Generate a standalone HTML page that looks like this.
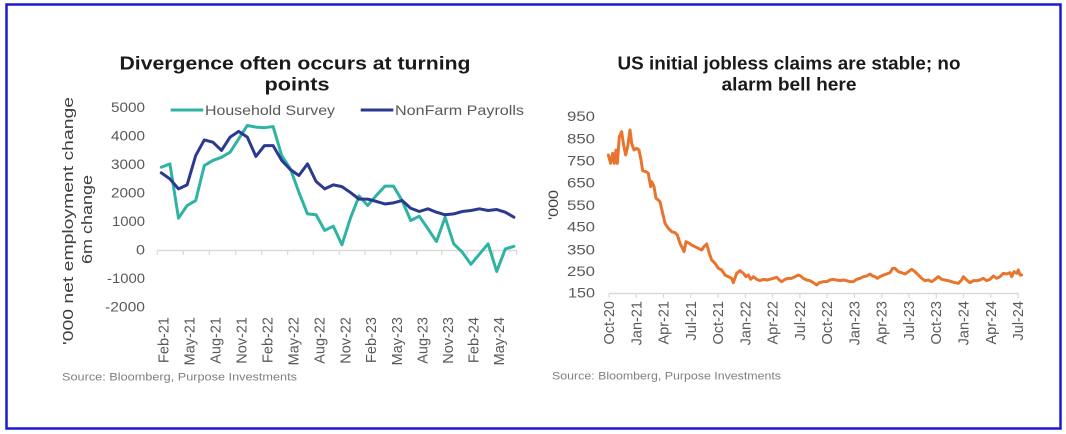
<!DOCTYPE html>
<html>
<head>
<meta charset="utf-8">
<style>
  html,body{margin:0;padding:0;background:#fff;}
  svg{display:block;}
  text{font-family:"Liberation Sans",Arial,sans-serif;}
</style>
</head>
<body>
<svg width="1066" height="434" viewBox="0 0 1066 434" xmlns="http://www.w3.org/2000/svg">
  <rect x="0" y="0" width="1066" height="434" fill="#ffffff"/>
  <!-- border -->
  <rect x="6.5" y="4.5" width="1054" height="424" fill="none" stroke="#1a1ad6" stroke-width="2.5"/>

  <!-- ================= LEFT CHART ================= -->
  <text x="295" y="69.5" font-size="18" font-weight="bold" fill="#1a1a1a" text-anchor="middle" textLength="351" lengthAdjust="spacingAndGlyphs">Divergence often occurs at turning</text>
  <text x="297" y="90.5" font-size="18" font-weight="bold" fill="#1a1a1a" text-anchor="middle" textLength="65" lengthAdjust="spacingAndGlyphs">points</text>

  <!-- legend -->
  <line x1="170.7" y1="110" x2="203.3" y2="110" stroke="#2fb3a3" stroke-width="3"/>
  <text x="205" y="115" font-size="14" fill="#595959" textLength="130" lengthAdjust="spacingAndGlyphs">Household Survey</text>
  <line x1="360.7" y1="110" x2="393.3" y2="110" stroke="#2b3990" stroke-width="3"/>
  <text x="395" y="115" font-size="14" fill="#595959" textLength="129" lengthAdjust="spacingAndGlyphs">NonFarm Payrolls</text>

  <!-- y axis labels -->
  <g font-size="14" fill="#595959" text-anchor="end">
    <text x="145" y="112" textLength="34" lengthAdjust="spacingAndGlyphs">5000</text>
    <text x="145" y="140.5" textLength="34" lengthAdjust="spacingAndGlyphs">4000</text>
    <text x="145" y="169" textLength="34" lengthAdjust="spacingAndGlyphs">3000</text>
    <text x="145" y="197.5" textLength="34" lengthAdjust="spacingAndGlyphs">2000</text>
    <text x="145" y="226" textLength="33" lengthAdjust="spacingAndGlyphs">1000</text>
    <text x="145" y="254.5" textLength="9" lengthAdjust="spacingAndGlyphs">0</text>
    <text x="145" y="283" textLength="38" lengthAdjust="spacingAndGlyphs">-1000</text>
    <text x="145" y="311.5" textLength="40" lengthAdjust="spacingAndGlyphs">-2000</text>
  </g>

  <!-- y axis title -->
  <text transform="translate(73,221) rotate(-90)" font-size="15" fill="#404040" text-anchor="middle" textLength="248" lengthAdjust="spacingAndGlyphs">'000 net employment change</text>
  <text transform="translate(92,219.5) rotate(-90)" font-size="15" fill="#404040" text-anchor="middle" textLength="89" lengthAdjust="spacingAndGlyphs">6m change</text>

  <!-- zero axis -->
  <line x1="157.3" y1="250.5" x2="517" y2="250.5" stroke="#d9d9d9" stroke-width="1.5"/>
  <g stroke="#d9d9d9" stroke-width="1.2">
    <line x1="157.3" y1="250.5" x2="157.3" y2="255"/>
    <line x1="183.3" y1="250.5" x2="183.3" y2="255"/>
    <line x1="209.3" y1="250.5" x2="209.3" y2="255"/>
    <line x1="235.7" y1="250.5" x2="235.7" y2="255"/>
    <line x1="261.7" y1="250.5" x2="261.7" y2="255"/>
    <line x1="287.7" y1="250.5" x2="287.7" y2="255"/>
    <line x1="313.3" y1="250.5" x2="313.3" y2="255"/>
    <line x1="339.3" y1="250.5" x2="339.3" y2="255"/>
    <line x1="365" y1="250.5" x2="365" y2="255"/>
    <line x1="390.7" y1="250.5" x2="390.7" y2="255"/>
    <line x1="416.7" y1="250.5" x2="416.7" y2="255"/>
    <line x1="441.7" y1="250.5" x2="441.7" y2="255"/>
    <line x1="467.3" y1="250.5" x2="467.3" y2="255"/>
    <line x1="493.3" y1="250.5" x2="493.3" y2="255"/>
    <line x1="516.7" y1="250.5" x2="516.7" y2="255"/>
  </g>

  <!-- x labels -->
  <g font-size="14.5" fill="#595959" text-anchor="end">
    <text transform="translate(168.5,317) rotate(-90)">Feb-21</text>
    <text transform="translate(194.5,317) rotate(-90)">May-21</text>
    <text transform="translate(220.5,317) rotate(-90)">Aug-21</text>
    <text transform="translate(246.5,317) rotate(-90)">Nov-21</text>
    <text transform="translate(272.5,317) rotate(-90)">Feb-22</text>
    <text transform="translate(298.5,317) rotate(-90)">May-22</text>
    <text transform="translate(324.5,317) rotate(-90)">Aug-22</text>
    <text transform="translate(350.5,317) rotate(-90)">Nov-22</text>
    <text transform="translate(376,317) rotate(-90)">Feb-23</text>
    <text transform="translate(402,317) rotate(-90)">May-23</text>
    <text transform="translate(427.5,317) rotate(-90)">Aug-23</text>
    <text transform="translate(453,317) rotate(-90)">Nov-23</text>
    <text transform="translate(478.5,317) rotate(-90)">Feb-24</text>
    <text transform="translate(504,317) rotate(-90)">May-24</text>
  </g>

  <!-- series -->
  <g transform="translate(161.3,249.5) scale(8.6,-0.02846)">
    <polyline vector-effect="non-scaling-stroke" fill="none" stroke="#2fb3a3" stroke-width="3" stroke-linejoin="round" stroke-linecap="round"
      points="0,2890 1,3010 2,1100 3,1545 4,1720 5,2950 6,3130 7,3240 8,3420 9,3890 10,4360 11,4300 12,4280 13,4320 14,3300 15,2840 16,2010 17,1250 18,1220 19,670 20,820 21,165 22,1110 23,1880 24,1545 25,1900 26,2225 27,2225 28,1720 29,1020 30,1170 31,730 32,280 33,1135 34,200 35,-95 36,-520 37,-160 38,200 39,-770 40,20 41,110"/>
    <polyline vector-effect="non-scaling-stroke" fill="none" stroke="#2b3990" stroke-width="3" stroke-linejoin="round" stroke-linecap="round"
      points="0,2695 1,2480 2,2130 3,2270 4,3300 5,3850 6,3770 7,3480 8,3950 9,4150 10,3950 11,3270 12,3650 13,3650 14,3130 15,2810 16,2600 17,3010 18,2390 19,2130 20,2270 21,2210 22,2000 23,1770 24,1770 25,1690 26,1600 27,1640 28,1720 29,1450 30,1335 31,1430 32,1310 33,1220 34,1250 35,1335 36,1370 37,1430 38,1370 39,1405 40,1310 41,1135"/>
  </g>

  <text x="62" y="380.5" font-size="11" fill="#7f7f7f" textLength="235" lengthAdjust="spacingAndGlyphs">Source: Bloomberg, Purpose Investments</text>

  <!-- ================= RIGHT CHART ================= -->
  <text x="789" y="69.5" font-size="18" font-weight="bold" fill="#1a1a1a" text-anchor="middle" textLength="343" lengthAdjust="spacingAndGlyphs">US initial jobless claims are stable; no</text>
  <text x="789" y="90.5" font-size="18" font-weight="bold" fill="#1a1a1a" text-anchor="middle" textLength="135" lengthAdjust="spacingAndGlyphs">alarm bell here</text>

  <g font-size="14" fill="#595959" text-anchor="end">
    <text x="595" y="121" textLength="28" lengthAdjust="spacingAndGlyphs">950</text>
    <text x="595" y="143.3" textLength="28" lengthAdjust="spacingAndGlyphs">850</text>
    <text x="595" y="165.7" textLength="28" lengthAdjust="spacingAndGlyphs">750</text>
    <text x="595" y="187.7" textLength="28" lengthAdjust="spacingAndGlyphs">650</text>
    <text x="595" y="210" textLength="28" lengthAdjust="spacingAndGlyphs">550</text>
    <text x="595" y="231.7" textLength="28" lengthAdjust="spacingAndGlyphs">450</text>
    <text x="595" y="254.3" textLength="28" lengthAdjust="spacingAndGlyphs">350</text>
    <text x="595" y="276" textLength="28" lengthAdjust="spacingAndGlyphs">250</text>
    <text x="595" y="297.7" textLength="27" lengthAdjust="spacingAndGlyphs">150</text>
  </g>

  <text transform="translate(558,205) rotate(-90)" font-size="14" fill="#404040" text-anchor="middle" textLength="30" lengthAdjust="spacingAndGlyphs">'000</text>

  <line x1="609" y1="293.5" x2="1019" y2="293.5" stroke="#d9d9d9" stroke-width="1.5"/>
  <g stroke="#d9d9d9" stroke-width="1.2">
    <line x1="609" y1="293.5" x2="609" y2="298"/>
    <line x1="636.3" y1="293.5" x2="636.3" y2="298"/>
    <line x1="663.5" y1="293.5" x2="663.5" y2="298"/>
    <line x1="690.8" y1="293.5" x2="690.8" y2="298"/>
    <line x1="718.1" y1="293.5" x2="718.1" y2="298"/>
    <line x1="745.4" y1="293.5" x2="745.4" y2="298"/>
    <line x1="772.6" y1="293.5" x2="772.6" y2="298"/>
    <line x1="799.9" y1="293.5" x2="799.9" y2="298"/>
    <line x1="827.2" y1="293.5" x2="827.2" y2="298"/>
    <line x1="854.4" y1="293.5" x2="854.4" y2="298"/>
    <line x1="881.7" y1="293.5" x2="881.7" y2="298"/>
    <line x1="909" y1="293.5" x2="909" y2="298"/>
    <line x1="936.2" y1="293.5" x2="936.2" y2="298"/>
    <line x1="963.5" y1="293.5" x2="963.5" y2="298"/>
    <line x1="990.8" y1="293.5" x2="990.8" y2="298"/>
    <line x1="1018" y1="293.5" x2="1018" y2="298"/>
  </g>

  <g font-size="14.5" fill="#595959" text-anchor="end">
    <text transform="translate(614,301) rotate(-90)">Oct-20</text>
    <text transform="translate(641.3,301) rotate(-90)">Jan-21</text>
    <text transform="translate(668.5,301) rotate(-90)">Apr-21</text>
    <text transform="translate(695.8,301) rotate(-90)">Jul-21</text>
    <text transform="translate(723.1,301) rotate(-90)">Oct-21</text>
    <text transform="translate(750.4,301) rotate(-90)">Jan-22</text>
    <text transform="translate(777.6,301) rotate(-90)">Apr-22</text>
    <text transform="translate(804.9,301) rotate(-90)">Jul-22</text>
    <text transform="translate(832.2,301) rotate(-90)">Oct-22</text>
    <text transform="translate(859.4,301) rotate(-90)">Jan-23</text>
    <text transform="translate(886.7,301) rotate(-90)">Apr-23</text>
    <text transform="translate(914,301) rotate(-90)">Jul-23</text>
    <text transform="translate(941.2,301) rotate(-90)">Oct-23</text>
    <text transform="translate(968.5,301) rotate(-90)">Jan-24</text>
    <text transform="translate(995.8,301) rotate(-90)">Apr-24</text>
    <text transform="translate(1023,301) rotate(-90)">Jul-24</text>
  </g>

  <g transform="translate(560,100) scale(0.333333)">
    <polyline vector-effect="non-scaling-stroke" fill="none" stroke="#e8742e" stroke-width="3" stroke-linejoin="round" stroke-linecap="round"
      points="145,165 152,190 158,160 163,190 168,150 172,190 178,110 185,95 190,130 197,165 203,140 210,90 215,130 222,150 230,145 237,150 243,180 248,212 258,215 265,220 272,260 275,245 282,260 288,295 295,300 300,305 308,340 315,370 325,385 335,395 345,398 352,405 360,430 365,440 372,455 378,425 388,430 395,435 405,440 415,445 425,450 432,440 440,432 448,460 455,480 465,490 475,505 485,510 495,525 505,530 515,535 520,548 530,520 540,512 550,520 558,530 565,525 572,538 580,530 590,538 600,542 610,538 620,540 630,538 640,535 650,532 658,540 665,545 675,538 685,535 695,535 705,530 715,525 722,528 730,535 740,540 750,542 760,548 770,555 778,548 790,545 800,545 810,540 820,538 828,540 840,542 850,540 860,542 870,545 880,545 890,538 900,535 910,530 920,528 930,522 938,528 945,530 952,535 960,530 970,525 980,522 990,518 998,505 1005,505 1015,515 1025,518 1035,522 1045,515 1055,508 1065,515 1075,525 1085,535 1095,542 1105,540 1115,545 1125,538 1135,530 1145,538 1155,540 1165,542 1175,545 1185,548 1195,550 1205,540 1210,530 1220,540 1230,548 1240,542 1250,542 1260,540 1270,535 1280,542 1290,538 1300,528 1310,535 1320,530 1330,520 1340,522 1350,518 1355,530 1362,515 1370,520 1375,510 1380,525 1385,525"/>
  </g>

  <text x="552" y="379.5" font-size="11" fill="#7f7f7f" textLength="229" lengthAdjust="spacingAndGlyphs">Source: Bloomberg, Purpose Investments</text>
</svg>
</body>
</html>
